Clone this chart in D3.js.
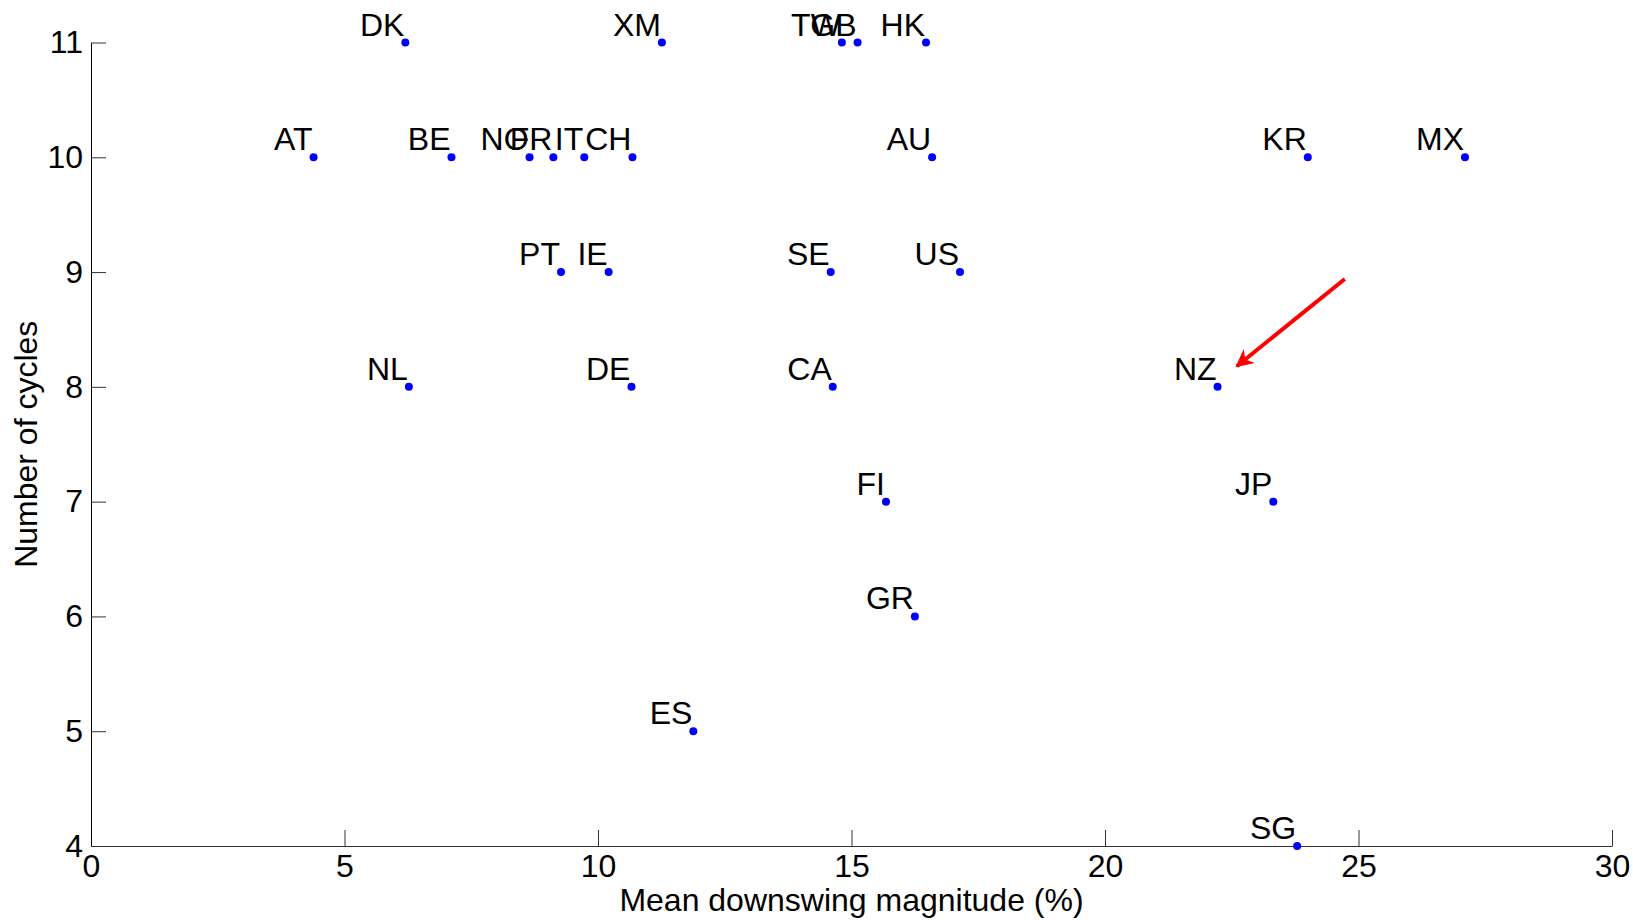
<!DOCTYPE html>
<html>
<head>
<meta charset="utf-8">
<script src="https://cdn.jsdelivr.net/npm/d3@7"></script>
<style>
  body { margin: 0; background: #fff; }
  svg { display: block; font-family: "Liberation Sans", Arial, sans-serif; }
</style>
</head>
<body>
<div id="chart"></div>
<script>
/* Scatter: mean downswing magnitude vs number of cycles */

const width = 1633, height = 920,
    margin = ({ top: 42.5, right: 21, bottom: 74, left: 91 });

// data
const countries = ["DK", "XM", "TW", "GB", "HK",
    "AT", "BE", "NO", "FR", "IT", "CH", "AU", "KR", "MX",
    "PT", "IE", "SE", "US",
    "NL", "DE", "CA", "NZ",
    "FI", "JP", "GR", "ES", "SG"];
const magnitude = [6.20, 11.26, 14.81, 15.12, 16.47,
    4.39, 7.11, 8.65, 9.12, 9.73, 10.68, 16.59, 24.0, 27.1,
    9.27, 10.21, 14.59, 17.14,
    6.27, 10.66, 14.63, 22.22,
    15.68, 23.32, 16.25, 11.88, 23.79];
const cycles = [11, 11, 11, 11, 11,
    10, 10, 10, 10, 10, 10, 10, 10, 10,
    9, 9, 9, 9,
    8, 8, 8, 8,
    7, 7, 6, 5, 4];
const xTicks = [0, 5, 10, 15, 20, 25, 30];
const yTicks = [4, 5, 6, 7, 8, 9, 10, 11];
// red arrow pointing at NZ: [start, end] in data units
const arrow = [[24.73, 8.94], [22.6, 8.18]];

const data = countries.map((c, i) => ({ name: c, x: magnitude[i], y: cycles[i] }));

const svg = d3.select("#chart")
    .append("svg")
    .attr("width", width)
    .attr("height", height);

let x = d3.scaleLinear()
    .domain([0, 30])
    .range([margin.left, width - margin.right]);

let y = d3.scaleLinear()
    .domain([4, 11])
    .range([height - margin.bottom, margin.top]);

// x axis, ticks pointing inward
const gx = svg.append("g")
    .attr("transform", `translate(0,${height - margin.bottom})`)
    .call(d3.axisBottom(x).tickValues(xTicks).tickFormat(d3.format("d"))
        .tickSizeInner(-16).tickSizeOuter(0).tickPadding(8));
gx.select(".domain").attr("stroke", "#333");
gx.selectAll(".tick line").attr("stroke", "#333");
gx.selectAll("text").attr("font-size", 32).attr("fill", "#000").attr("font-family", null);

const gy = svg.append("g")
    .attr("transform", `translate(${margin.left},0)`)
    .call(d3.axisLeft(y).tickValues(yTicks).tickFormat(d3.format("d"))
        .tickSizeInner(-15).tickSizeOuter(0).tickPadding(8));
gy.select(".domain").attr("stroke", "#000");
gy.selectAll(".tick line").attr("stroke", "#333");
gy.selectAll("text").attr("font-size", 32).attr("fill", "#000").attr("font-family", null);

svg.append("text")
    .attr("text-anchor", "middle")
    .attr("x", (margin.left + width - margin.right) / 2)
    .attr("y", 911)
    .attr("font-size", 32)
    .text("Mean downswing magnitude (%)");

svg.append("text")
    .attr("text-anchor", "middle")
    .attr("transform", `translate(37,${(margin.top + height - margin.bottom) / 2}) rotate(-90)`)
    .attr("font-size", 32)
    .text("Number of cycles");

// points
svg.append("g")
    .selectAll("circle")
    .data(data)
    .join("circle")
    .attr("cx", d => x(d.x))
    .attr("cy", d => y(d.y))
    .attr("r", 4)
    .attr("fill", "#0000ff");

// country labels, right-aligned just above-left of each dot
svg.append("g")
    .selectAll("text")
    .data(data)
    .join("text")
    .attr("x", d => x(d.x) - 1)
    .attr("y", d => y(d.y) - 7)
    .attr("text-anchor", "end")
    .attr("font-size", 32)
    .attr("fill", "#000")
    .text(d => d.name);

// arrow
svg.append("defs").append("marker")
    .attr("id", "head")
    .attr("viewBox", "0 0 10 10")
    .attr("refX", 9).attr("refY", 5)
    .attr("markerWidth", 4.5).attr("markerHeight", 4.5)
    .attr("markerUnits", "strokeWidth")
    .attr("orient", "auto")
    .append("path")
    .attr("d", "M0,0 L10,5 L0,10 L3,5 Z")
    .attr("fill", "#ff0000");

svg.append("line")
    .attr("x1", x(arrow[0][0])).attr("y1", y(arrow[0][1]))
    .attr("x2", x(arrow[1][0])).attr("y2", y(arrow[1][1]))
    .attr("stroke", "#ff0000")
    .attr("stroke-width", 4)
    .attr("marker-end", "url(#head)");
</script>
</body>
</html>
